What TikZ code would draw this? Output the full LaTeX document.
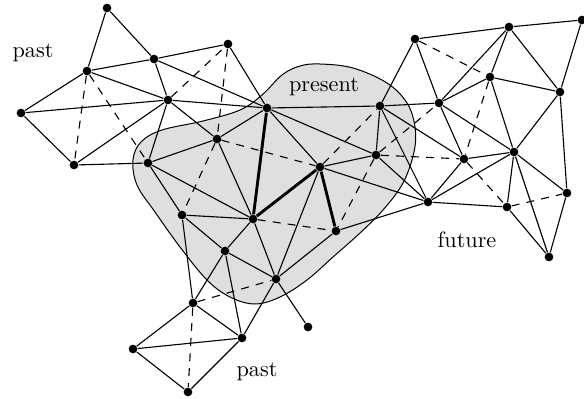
\documentclass[tikz,border=0pt]{standalone}
\begin{document}
\begin{tikzpicture}[x=0.45pt,y=-0.45pt,
  dot/.style={circle,fill=black,inner sep=0pt,minimum size=3.9pt},
  edge/.style={line width=0.5pt},
  dashedge/.style={line width=0.5pt,dash pattern=on 3.6pt off 3.2pt},
  thickedge/.style={line width=1.3pt},
  blob/.style={fill=gray!25,draw=black,line width=0.45pt}]
\useasboundingbox (0,0) rectangle (584,399);
% present region
\draw[blob] plot[smooth cycle, tension=0.6] coordinates {
  (320,64) (353,68) (387,83) (407,103) (415,127) (414,152) (403,183)
  (383,210) (360,233) (333,257) (307,280) (280,297) (255,304) (230,297)
  (207,280) (180,247) (155,212) (137,185) (133,160) (141,142) (162,130)
  (203,121) (240,110) (262,95) (282,75) (300,66)};
% nodes
\foreach \n/\x/\y in {A/107/8, B/154/59, C/87/71, D/21/113, E/168/100,
  F/74/165, G/148/163, H/228/44, I/267/108, J/217/139, K/320/167,
  L/182/215, M/253/219, KK/336/231, N/415/39, O/509/27, P/582/20,
  Q/490/77, R/560/92, S/380/106, T/439/103, U/376/155, V/464/159,
  W/514/152, X/567/193, Y/428/202, Z/507/207, AA/549/257, AB/225/251,
  AC/276/279, AD/193/303, AE/308/327, AF/242/338, AG/133/349, AH/188/392}
  \node[dot] (\n) at (\x,\y) {};
% solid edges
\foreach \a/\b in {A/B, A/C, C/B, B/H, C/E, C/D, D/E, D/F, F/E, F/G, B/E,
  E/G, E/I, B/I, H/I, E/J, G/J, G/M, G/L, J/M, J/I, I/K, I/S, L/M, L/AB,
  AB/M, AB/AC, M/AC, AB/AD, AB/AF, L/AD, AD/AF, AD/AG, AG/AF, AG/AH,
  AH/AF, AF/AC, AC/AE, AC/KK, K/AC, K/U, K/Y, KK/Y, I/U, S/U, S/T, S/V,
  S/Y, N/S, N/T, N/O, O/P, O/T, O/Q, O/R, P/R, Q/T, Q/R, Q/W, R/W, R/X,
  T/V, T/W, V/W, V/Y, W/Y, W/Z, W/AA, W/X, Z/AA, X/AA, Y/Z, U/Y}
  \draw[edge] (\a) -- (\b);
% dashed edges
\foreach \a/\b in {C/F, C/G, E/H, H/J, J/L, J/K, M/KK, AD/AC, AD/AH, K/S,
  U/T, U/V, U/KK, N/Q, Q/V, V/Z, Z/X}
  \draw[dashedge] (\a) -- (\b);
% thick path
\foreach \a/\b in {I/M, M/K, K/KK}
  \draw[thickedge] (\a) -- (\b);
% labels
\node (past1) at (33,53) {past};
\node (present) at (324,87) {present};
\node (future) at (467,240) {future};
\node (past2) at (257,372) {past};
\end{tikzpicture}
\end{document}
